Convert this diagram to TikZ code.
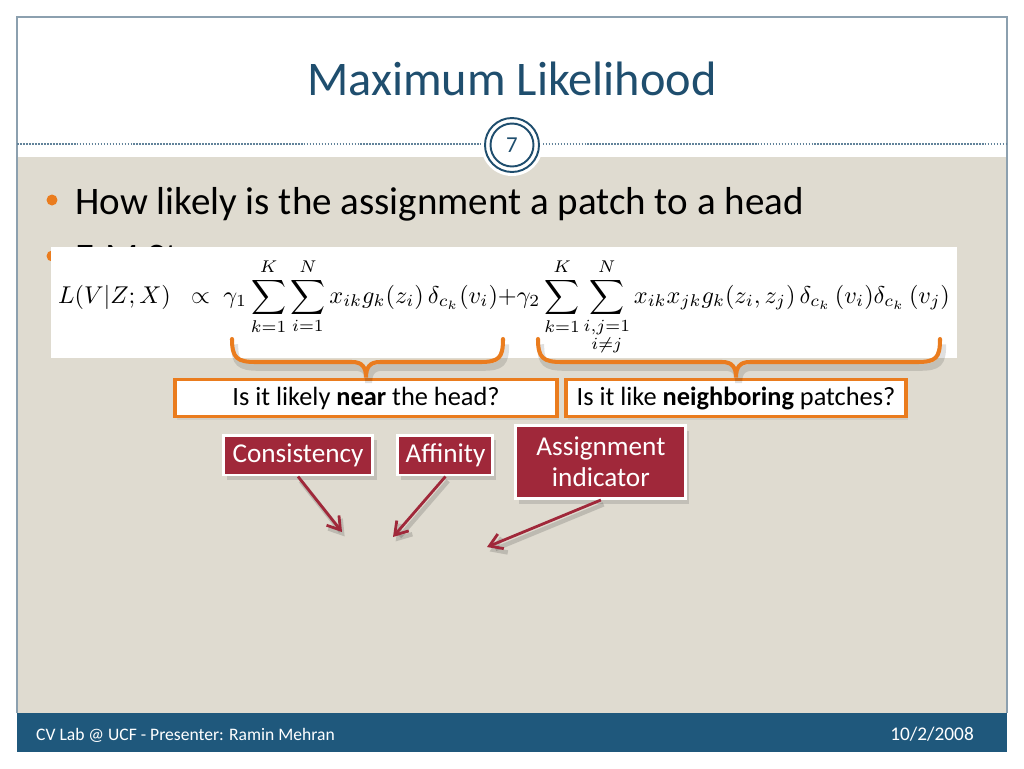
\documentclass[tikz,border=0pt]{standalone}
\usepackage{amsmath}
\usepackage{graphicx}
\usepackage{fontspec}
\setmainfont{Carlito}
\usetikzlibrary{positioning,shadows,arrows.meta}

\definecolor{slidebeige}{RGB}{223,219,208}
\definecolor{titleblue}{RGB}{31,78,110}
\definecolor{footblue}{RGB}{31,88,124}
\definecolor{framegray}{RGB}{140,160,175}
\definecolor{braceorange}{RGB}{234,124,30}
\definecolor{tagred}{RGB}{160,40,58}

\tikzset{
  quest/.style={draw=braceorange, line width=2.2pt, fill=white, minimum height=0.74cm, inner sep=0pt,
    font=\fontsize{15}{17}\selectfont, drop shadow={shadow xshift=1pt, shadow yshift=-2pt, opacity=.15}},
  tag/.style={fill=tagred, draw=white, line width=1.7pt, text=white, align=center, inner sep=0pt,
    font=\fontsize{15.5}{17.5}\selectfont, drop shadow={shadow xshift=2pt, shadow yshift=-3pt, opacity=.3}},
  pointer/.style={draw=tagred, line width=1.6pt, -{Straight Barb[length=7pt,width=9pt]},
    preaction={draw=black, opacity=.15, line width=2.5pt, transform canvas={shift={(1.5pt,-2.5pt)}}}},
  bracket/.style={draw=braceorange, line width=2.3pt, line cap=round,
    preaction={draw=black, opacity=.12, line width=4pt, transform canvas={shift={(1.5pt,-3pt)}}}},
  dot/.style={circle, fill=braceorange, inner sep=0pt, minimum size=0.22cm},
}

\begin{document}
\begin{tikzpicture}[x=0.02cm, y=-0.02cm]
  \useasboundingbox (0,0) rectangle (1024,768);
  % slide frame
  \fill[white] (0,0) rectangle (1024,768);
  \fill[slidebeige] (17,157) rectangle (1007,713);
  \draw[framegray, line width=0.6pt] (17,713) -- (17,17) -- (1007,17) -- (1007,713);
  \fill[footblue] (17,713) rectangle (1007,752);
  \draw[titleblue!70, line width=0.7pt, dash pattern=on 1pt off 0.7pt] (17,144) -- (1007,144);

  % title and page number
  \node[anchor=base, text=titleblue, font=\fontsize{27.5}{30}\selectfont] (title) at (512,95) {Maximum Likelihood};
  \node[circle, fill=white, minimum size=1.24cm] (pagebg) at (512,145) {};
  \node[circle, draw=titleblue, line width=1.1pt, minimum size=0.86cm, text=titleblue,
    font=\fontsize{13}{15}\selectfont] (pagenum) at (512,145) {7};
  \draw[titleblue, line width=1.1pt] (pagenum.center) circle (0.54cm);

  % bullets
  \node[dot] (dot1) at (52,200) {};
  \node[anchor=base west, inner sep=0pt, font=\fontsize{22.2}{26}\selectfont] (item1) at (75,214) {How likely is the assignment a patch to a head};
  \node[dot] (dot2) at (52,256) {};
  \node[anchor=base west, inner sep=0pt, font=\fontsize{22.2}{26}\selectfont] (item2) at (75,270) {E-M Step};

  % formula
  \node[fill=white, minimum width=18.12cm, minimum height=2.22cm, inner sep=0pt] (eqbox) at (504,302.5) {};
  \node[inner sep=0pt] (eq) at (504,307) {\resizebox{17.84cm}{!}{$\displaystyle
    L(V|Z;X)\;\;\propto\;\gamma_1\sum_{k=1}^{K}\sum_{i=1}^{N}x_{ik}g_k(z_i)\,\delta_{c_k}(v_i){+}\gamma_2
    \sum_{k=1}^{K}\sum_{\substack{i,j=1\\i\neq j}}^{N}x_{ik}x_{jk}g_k(z_i,z_j)\,\delta_{c_k}\,(v_i)\delta_{c_k}\,(v_j)$}};

  % questions
  \node[quest, minimum width=7.65cm] (nearq) at (366,398) {Is it likely \textbf{near} the head?};
  \node[quest, minimum width=6.8cm] (neighq) at (736,398) {Is it like \textbf{neighboring} patches?};

  \draw[bracket] (232,339) .. controls (232,358) and (237,362) .. (256,362) -- (352,362)
    .. controls (362,362) and (366,367) .. (nearq.north) .. controls (366,367) and (370,362) .. (380,362)
    -- (480,362) .. controls (499,362) and (503,358) .. (503,339);
  \draw[bracket] (538,339) .. controls (538,358) and (543,362) .. (562,362) -- (722,362)
    .. controls (732,362) and (736,367) .. (neighq.north) .. controls (736,367) and (740,362) .. (750,362)
    -- (917,362) .. controls (936,362) and (940,358) .. (940,339);

  % labels
  \node[tag, minimum width=3cm, minimum height=0.8cm] (cons) at (298,455) {Consistency};
  \node[tag, minimum width=1.9cm, minimum height=0.8cm, right=0.44cm of cons] (affin) {Affinity};
  \node[tag, minimum width=3.4cm, minimum height=1.46cm, right=0.4cm of affin, yshift=-0.14cm] (assign) {Assignment\\indicator};

  \coordinate (consend) at (342,532);
  \coordinate (affinend) at (393,537);
  \coordinate (assignend) at (487,547);
  \draw[pointer] (cons.south) -- (consend);
  \draw[pointer] (affin.south) -- (affinend);
  \draw[pointer] (assign.south) -- (assignend);

  % footer
  \node[anchor=base west, text=white, font=\fontsize{10}{12}\selectfont] (credit) at (30,740) {CV Lab @ UCF - Presenter: Ramin Mehran};
  \node[anchor=base east, text=white, font=\fontsize{11}{12}\selectfont] (date) at (980,740) {10/2/2008};
\end{tikzpicture}
\end{document}
